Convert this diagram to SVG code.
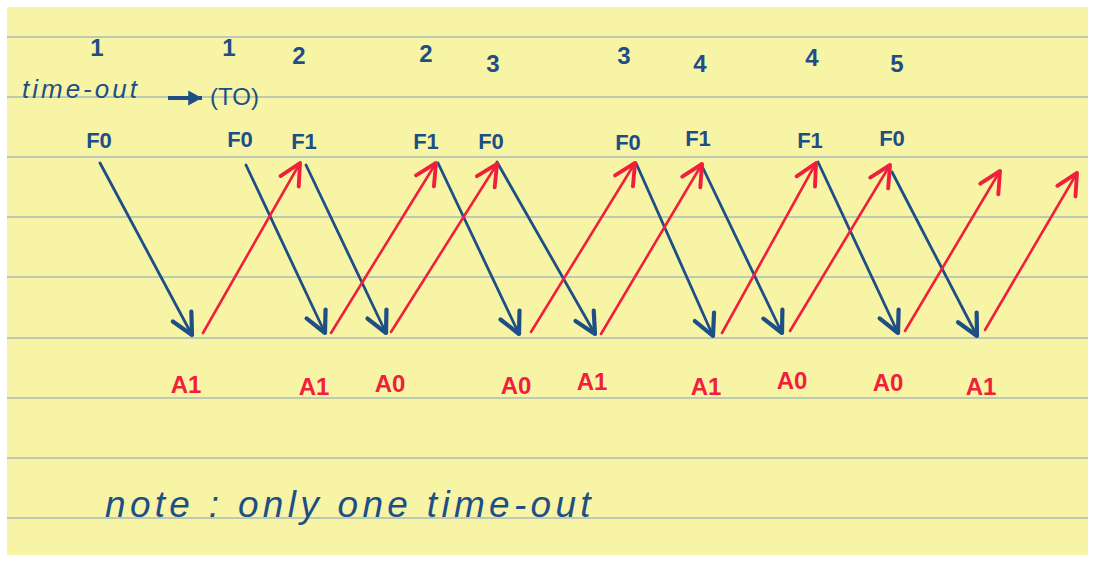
<svg xmlns="http://www.w3.org/2000/svg" width="1095" height="561" viewBox="0 0 1095 561">
<defs>
<style>
.rule{stroke:#a8bdb4;stroke-width:1.5}
.blue{fill:#1d4f86;font-family:"Liberation Sans",Arial,sans-serif}
.red{fill:#f0203c;font-family:"Liberation Sans",Arial,sans-serif}
.num{font-size:24px;text-anchor:middle;font-weight:bold}
.lbl{font-size:22px;text-anchor:middle;font-weight:bold}
.albl{font-size:24px}
.hand{font-style:italic}
.fb{stroke:#1d4f86;stroke-width:2.8;fill:none;stroke-linecap:round;marker-end:url(#mb)}
.ar{stroke:#f0203c;stroke-width:2.6;fill:none;stroke-linecap:round;marker-end:url(#mr)}
</style>
<marker id="mb" markerUnits="userSpaceOnUse" markerWidth="30" markerHeight="30" refX="0" refY="0" viewBox="-16 -10 20 20" orient="auto">
<path d="M-14,-7 L0,0 L-14,7" fill="none" stroke="#1d4f86" stroke-width="2.8" stroke-linecap="round" stroke-linejoin="round"/>
</marker>
<marker id="mr" markerUnits="userSpaceOnUse" markerWidth="30" markerHeight="30" refX="0" refY="0" viewBox="-16 -10 20 20" orient="auto">
<path d="M-14,-7 L0,0 L-14,7" fill="none" stroke="#f0203c" stroke-width="2.6" stroke-linecap="round" stroke-linejoin="round"/>
</marker>
<marker id="mt" markerUnits="userSpaceOnUse" markerWidth="20" markerHeight="20" refX="0" refY="0" viewBox="-12 -8 14 16" orient="auto">
<path d="M-11,-6 L0,0 L-11,6 Z" fill="#1d4f86"/>
</marker>
</defs>
<rect x="0" y="0" width="1095" height="561" fill="#ffffff"/>
<rect x="7" y="7" width="1081" height="548" fill="#f8f4a6"/>
<g id="rules">
<line class="rule" x1="7" y1="37" x2="1088" y2="37"/>
<line class="rule" x1="7" y1="97" x2="1088" y2="97"/>
<line class="rule" x1="7" y1="157" x2="1088" y2="157"/>
<line class="rule" x1="7" y1="217" x2="1088" y2="217"/>
<line class="rule" x1="7" y1="277" x2="1088" y2="277"/>
<line class="rule" x1="7" y1="338" x2="1088" y2="338"/>
<line class="rule" x1="7" y1="398" x2="1088" y2="398"/>
<line class="rule" x1="7" y1="458" x2="1088" y2="458"/>
<line class="rule" x1="7" y1="518" x2="1088" y2="518"/>
</g>
<g id="numbers" class="blue num">
<text x="97" y="56">1</text>
<text x="229" y="56">1</text>
<text x="299" y="64">2</text>
<text x="426" y="62">2</text>
<text x="493" y="72">3</text>
<text x="624" y="64">3</text>
<text x="700" y="72">4</text>
<text x="812" y="66">4</text>
<text x="897" y="72">5</text>
</g>
<g id="timeout">
<text class="blue hand" x="22" y="98" font-size="26" letter-spacing="3">time-out</text>
<line x1="168" y1="98" x2="202" y2="98" stroke="#1d4f86" stroke-width="4" marker-end="url(#mt)"/>
<text class="blue" x="210" y="105" font-size="24">(TO)</text>
</g>
<g id="senders" class="blue lbl">
<text x="99" y="148">F0</text>
<text x="240" y="147">F0</text>
<text x="304" y="149">F1</text>
<text x="426" y="149">F1</text>
<text x="491" y="149">F0</text>
<text x="628" y="150">F0</text>
<text x="698" y="146">F1</text>
<text x="810" y="148">F1</text>
<text x="892" y="146">F0</text>
</g>
<g id="connectors">
<line class="fb" x1="100" y1="163" x2="192" y2="335"/>
<line class="fb" x1="246" y1="165" x2="325" y2="333"/>
<line class="fb" x1="306" y1="165" x2="386" y2="333"/>
<line class="fb" x1="438" y1="163" x2="519" y2="334"/>
<line class="fb" x1="497" y1="162" x2="595" y2="334"/>
<line class="fb" x1="636" y1="163" x2="713" y2="336"/>
<line class="fb" x1="702" y1="166" x2="782" y2="333"/>
<line class="fb" x1="818" y1="162" x2="898" y2="333"/>
<line class="fb" x1="892" y1="172" x2="977" y2="336"/>
<line class="ar" x1="203" y1="333" x2="300" y2="163"/>
<line class="ar" x1="331" y1="333" x2="436" y2="163"/>
<line class="ar" x1="391" y1="332" x2="497" y2="164"/>
<line class="ar" x1="531" y1="332" x2="635" y2="163"/>
<line class="ar" x1="601" y1="334" x2="702" y2="164"/>
<line class="ar" x1="722" y1="333" x2="816" y2="163"/>
<line class="ar" x1="790" y1="331" x2="890" y2="165"/>
<line class="ar" x1="905" y1="331" x2="1000" y2="171"/>
<line class="ar" x1="985" y1="330" x2="1077" y2="173"/>
</g>
<g id="acks" class="red lbl albl">
<text x="186" y="393">A1</text>
<text x="314" y="395">A1</text>
<text x="390" y="392">A0</text>
<text x="516" y="394">A0</text>
<text x="592" y="390">A1</text>
<text x="706" y="395">A1</text>
<text x="792" y="389">A0</text>
<text x="888" y="391">A0</text>
<text x="981" y="395">A1</text>
</g>
<g id="note">
<text class="blue hand" x="105" y="517" font-size="37" letter-spacing="4.3">note : only one time-out</text>
</g>
</svg>
